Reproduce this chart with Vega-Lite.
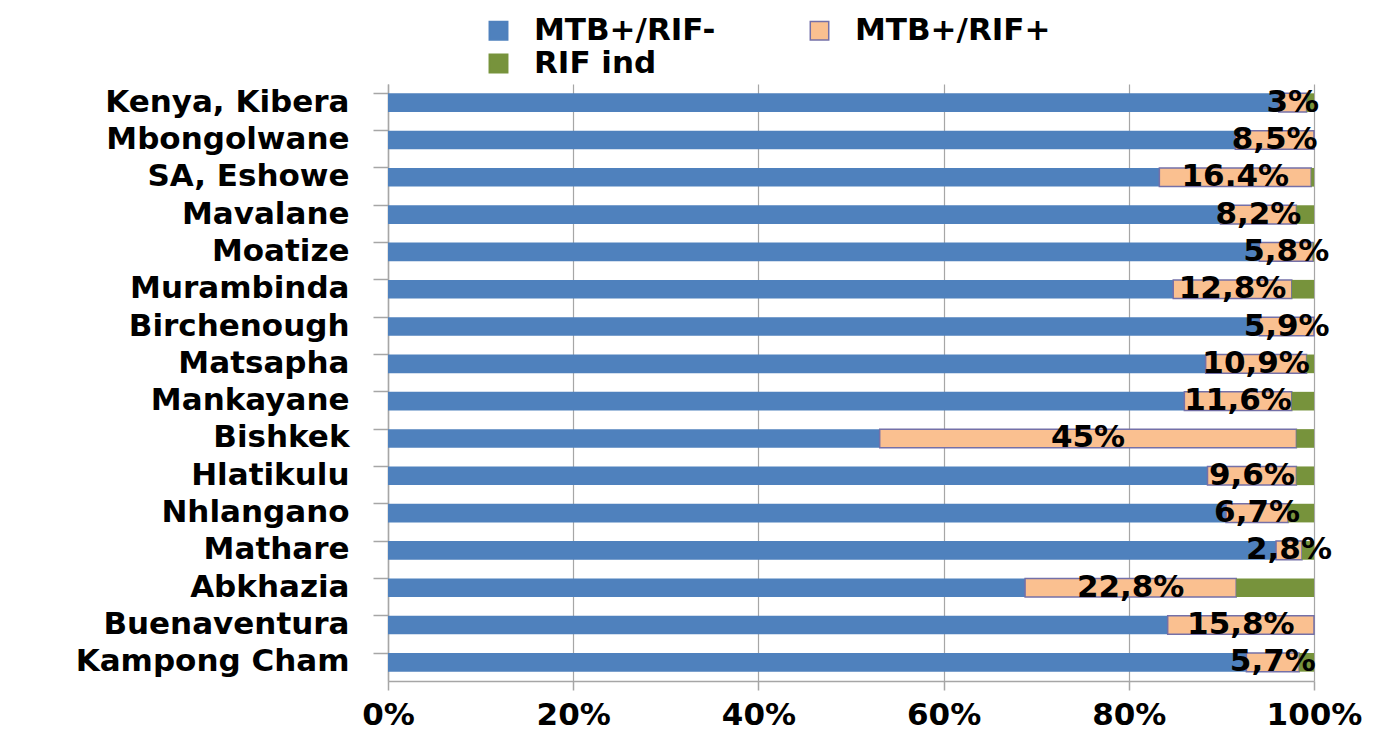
{
  "$schema": "https://vega.github.io/schema/vega-lite/v6.json",
  "autosize": "none",
  "padding": {"left": 388, "top": 84, "right": 68, "bottom": 55},
  "width": 926,
  "height": 597,
  "background": "white",
  "config": {
    "view": {"stroke": null},
    "font": "DejaVu Sans",
    "axis": {"labelFont": "DejaVu Sans", "labelFontWeight": "bold", "labelColor": "black", "labelFontSize": 31, "labelLimit": 0, "domainColor": "#A6A6A6", "domainWidth": 1.5, "tickColor": "#A6A6A6", "tickWidth": 1.5, "gridColor": "#A6A6A6", "gridWidth": 1.2, "title": null},
    "legend": {"labelFont": "DejaVu Sans", "labelFontWeight": "bold", "labelColor": "black", "labelFontSize": 31, "labelLimit": 0, "padding": 0}
  },
  "data": {
    "values": [
      {"site": "Kenya, Kibera", "series": "MTB+/RIF-", "value": 96.2},
      {"site": "Kenya, Kibera", "series": "MTB+/RIF+", "value": 3.0, "label": "3%"},
      {"site": "Kenya, Kibera", "series": "RIF ind", "value": 0.8},
      {"site": "Mbongolwane", "series": "MTB+/RIF-", "value": 91.5},
      {"site": "Mbongolwane", "series": "MTB+/RIF+", "value": 8.5, "label": "8,5%"},
      {"site": "SA, Eshowe", "series": "MTB+/RIF-", "value": 83.3},
      {"site": "SA, Eshowe", "series": "MTB+/RIF+", "value": 16.4, "label": "16.4%"},
      {"site": "SA, Eshowe", "series": "RIF ind", "value": 0.3},
      {"site": "Mavalane", "series": "MTB+/RIF-", "value": 89.9},
      {"site": "Mavalane", "series": "MTB+/RIF+", "value": 8.2, "label": "8,2%"},
      {"site": "Mavalane", "series": "RIF ind", "value": 1.9},
      {"site": "Moatize", "series": "MTB+/RIF-", "value": 94.1},
      {"site": "Moatize", "series": "MTB+/RIF+", "value": 5.8, "label": "5,8%"},
      {"site": "Moatize", "series": "RIF ind", "value": 0.1},
      {"site": "Murambinda", "series": "MTB+/RIF-", "value": 84.8},
      {"site": "Murambinda", "series": "MTB+/RIF+", "value": 12.8, "label": "12,8%"},
      {"site": "Murambinda", "series": "RIF ind", "value": 2.4},
      {"site": "Birchenough", "series": "MTB+/RIF-", "value": 94.1},
      {"site": "Birchenough", "series": "MTB+/RIF+", "value": 5.9, "label": "5,9%"},
      {"site": "Matsapha", "series": "MTB+/RIF-", "value": 88.3},
      {"site": "Matsapha", "series": "MTB+/RIF+", "value": 10.9, "label": "10,9%"},
      {"site": "Matsapha", "series": "RIF ind", "value": 0.8},
      {"site": "Mankayane", "series": "MTB+/RIF-", "value": 86.0},
      {"site": "Mankayane", "series": "MTB+/RIF+", "value": 11.6, "label": "11,6%"},
      {"site": "Mankayane", "series": "RIF ind", "value": 2.4},
      {"site": "Bishkek", "series": "MTB+/RIF-", "value": 53.1},
      {"site": "Bishkek", "series": "MTB+/RIF+", "value": 45.0, "label": "45%"},
      {"site": "Bishkek", "series": "RIF ind", "value": 1.9},
      {"site": "Hlatikulu", "series": "MTB+/RIF-", "value": 88.5},
      {"site": "Hlatikulu", "series": "MTB+/RIF+", "value": 9.6, "label": "9,6%"},
      {"site": "Hlatikulu", "series": "RIF ind", "value": 1.9},
      {"site": "Nhlangano", "series": "MTB+/RIF-", "value": 90.5},
      {"site": "Nhlangano", "series": "MTB+/RIF+", "value": 6.7, "label": "6,7%"},
      {"site": "Nhlangano", "series": "RIF ind", "value": 2.8},
      {"site": "Mathare", "series": "MTB+/RIF-", "value": 95.9},
      {"site": "Mathare", "series": "MTB+/RIF+", "value": 2.8, "label": "2,8%"},
      {"site": "Mathare", "series": "RIF ind", "value": 1.3},
      {"site": "Abkhazia", "series": "MTB+/RIF-", "value": 68.8},
      {"site": "Abkhazia", "series": "MTB+/RIF+", "value": 22.8, "label": "22,8%"},
      {"site": "Abkhazia", "series": "RIF ind", "value": 8.4},
      {"site": "Buenaventura", "series": "MTB+/RIF-", "value": 84.2},
      {"site": "Buenaventura", "series": "MTB+/RIF+", "value": 15.8, "label": "15,8%"},
      {"site": "Kampong Cham", "series": "MTB+/RIF-", "value": 92.7},
      {"site": "Kampong Cham", "series": "MTB+/RIF+", "value": 5.7, "label": "5,7%"},
      {"site": "Kampong Cham", "series": "RIF ind", "value": 1.6}
    ]
  },
  "transform": [
    {"calculate": "indexof(['MTB+/RIF-','MTB+/RIF+','RIF ind'], datum.series)", "as": "ord"},
    {"stack": "value", "groupby": ["site"], "sort": [{"field": "ord", "order": "ascending"}], "offset": "normalize", "as": ["v0", "v1"]},
    {"calculate": "(datum.v0 + datum.v1) / 2", "as": "mid"}
  ],
  "encoding": {
    "y": {
      "field": "site", "type": "nominal", "sort": null,
      "scale": {"paddingInner": 0.5, "paddingOuter": 0.25},
      "axis": {"bandPosition": 0, "tickSize": 15, "labelPadding": 24, "domain": true, "grid": false}
    }
  },
  "layer": [
    {
      "mark": {"type": "bar"},
      "encoding": {
        "x": {
          "field": "v0", "type": "quantitative",
          "scale": {"domain": [0, 1], "nice": false},
          "axis": {"format": ".0%", "values": [0, 0.2, 0.4, 0.6, 0.8, 1], "grid": true, "tickSize": 9, "labelPadding": 10, "labelFlush": false}
        },
        "x2": {"field": "v1"},
        "fill": {
          "field": "series", "type": "nominal",
          "scale": {"domain": ["MTB+/RIF-", "MTB+/RIF+", "RIF ind"], "range": ["#4F81BD", "#FAC090", "#77933C"]},
          "legend": {"title": null, "orient": "none", "legendX": 95, "legendY": -69, "direction": "horizontal", "columns": 2, "columnPadding": 88, "rowPadding": 1, "symbolType": "square", "symbolSize": 340, "labelOffset": 20, "symbolStrokeWidth": 1.5}
        },
        "stroke": {
          "field": "series", "type": "nominal",
          "scale": {"domain": ["MTB+/RIF-", "MTB+/RIF+", "RIF ind"], "range": ["#4F81BD", "#7470A8", "#77933C"]},
          "legend": {"title": null, "orient": "none", "legendX": 95, "legendY": -69, "direction": "horizontal", "columns": 2, "columnPadding": 88, "rowPadding": 1, "symbolType": "square", "symbolSize": 340, "labelOffset": 20, "symbolStrokeWidth": 1.5}
        },
        "strokeWidth": {"condition": {"test": "datum.series === 'MTB+/RIF+'", "value": 1.5}, "value": 0}
      }
    },
    {
      "transform": [{"filter": "datum.series === 'MTB+/RIF+'"}],
      "mark": {"type": "text", "font": "DejaVu Sans", "fontWeight": "bold", "fontSize": 31, "color": "black", "align": "center", "baseline": "middle"},
      "encoding": {
        "x": {"field": "mid", "type": "quantitative"},
        "text": {"field": "label"}
      }
    }
  ]
}
